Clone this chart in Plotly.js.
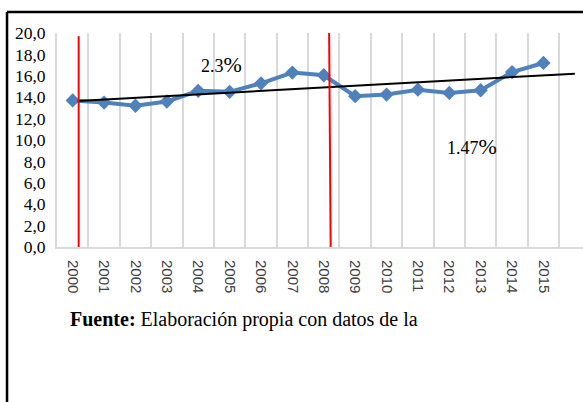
<!DOCTYPE html>
<html><head><meta charset="utf-8">
<script src="https://cdn.plot.ly/plotly-3.0.1.min.js"></script>
<style>html,body{margin:0;padding:0;background:#fff}#chart{width:583px;height:402px}</style>
</head><body><div id="chart"></div>
<script>
const years = ['2000','2001','2002','2003','2004','2005','2006','2007','2008','2009','2010','2011','2012','2013','2014','2015'];
const values = [13.7, 13.5, 13.2, 13.6, 14.6, 14.5, 15.3, 16.3, 16.05, 14.1, 14.25, 14.7, 14.4, 14.65, 16.35, 17.2];
const trendX = [0.16, 16.0];
const trendY = [13.65, 16.2];
const red1X = [0.19, 0.19];
const red1Y = [0, 19.7];
const red2X = [8.22, 8.17];
const red2Y = [0, 20.4];
const rateLabels = ['2.3', '1.47'];
const rateX = [4.75, 12.72];
const rateY = [17.1, 9.4];
const yTicks = [0,2,4,6,8,10,12,14,16,18,20];

const idx = years.map((_, i) => i);
const bounds = [];
for (let i = -0.5; i <= years.length + 0.5; i += 1) bounds.push(i);

const traces = [
  {x: idx, y: values, type: 'scatter', mode: 'lines+markers',
   line: {color: '#4f81bd', width: 4},
   marker: {symbol: 'diamond', size: 11, color: '#4f81bd'}, cliponaxis: false},
  {x: trendX, y: trendY, type: 'scatter', mode: 'lines', line: {color: '#000', width: 2}},
  {x: red1X, y: red1Y, type: 'scatter', mode: 'lines', line: {color: '#ff0000', width: 2}},
  {x: red2X, y: red2Y, type: 'scatter', mode: 'lines', line: {color: '#ff0000', width: 2}}
];

const annotations = rateLabels.map((t, i) => ({
  x: rateX[i], y: rateY[i], xref: 'x', yref: 'y', showarrow: false,
  text: t + '<span style="font-size:22px">%</span>',
  font: {family: 'Liberation Serif', size: 18, color: '#000'}
}));
annotations.push({
  x: 0.02, y: -0.34, xref: 'paper', yref: 'paper', xanchor: 'left', yanchor: 'middle',
  showarrow: false,
  text: '<b>Fuente:</b> Elaboración propia con datos de la',
  font: {family: 'Liberation Serif', size: 20, color: '#000'}
});

const layout = {
  width: 583, height: 402,
  margin: {l: 57, r: 0, t: 33, b: 154.5},
  paper_bgcolor: '#fff', plot_bgcolor: '#fff',
  showlegend: false,
  separators: ', ',
  xaxis: {
    range: [-0.5, 16.26], tickmode: 'array', tickvals: idx, ticktext: years,
    tickangle: 90, ticks: '', showgrid: false, zeroline: false,
    showline: true, linecolor: '#d9d9d9', linewidth: 2,
    ticklabelstandoff: 8,
    tickfont: {family: 'Liberation Sans', size: 15, color: '#404040'},
    minor: {tickmode: 'array', tickvals: bounds, showgrid: true, gridcolor: '#d9d9d9', gridwidth: 2, ticks: ''}
  },
  yaxis: {
    range: [0, 20], tickmode: 'array', tickvals: yTicks, tickformat: '.1f',
    ticks: '', showgrid: false, zeroline: false,
    showline: true, linecolor: '#d9d9d9', linewidth: 2,
    ticklabelstandoff: 6,
    tickfont: {family: 'Liberation Serif', size: 17.5, color: '#000'}
  },
  annotations: annotations,
  shapes: [
    {type: 'line', xref: 'paper', yref: 'paper', x0: -0.095, x1: 1.01, y0: 1.098, y1: 1.098, line: {color: '#000', width: 2.5}},
    {type: 'line', xref: 'paper', yref: 'paper', x0: -0.095, x1: -0.095, y0: 1.098, y1: -0.75, line: {color: '#000', width: 2.5}}
  ]
};

Plotly.newPlot('chart', traces, layout, {displayModeBar: false, staticPlot: true});
</script>
</body></html>
